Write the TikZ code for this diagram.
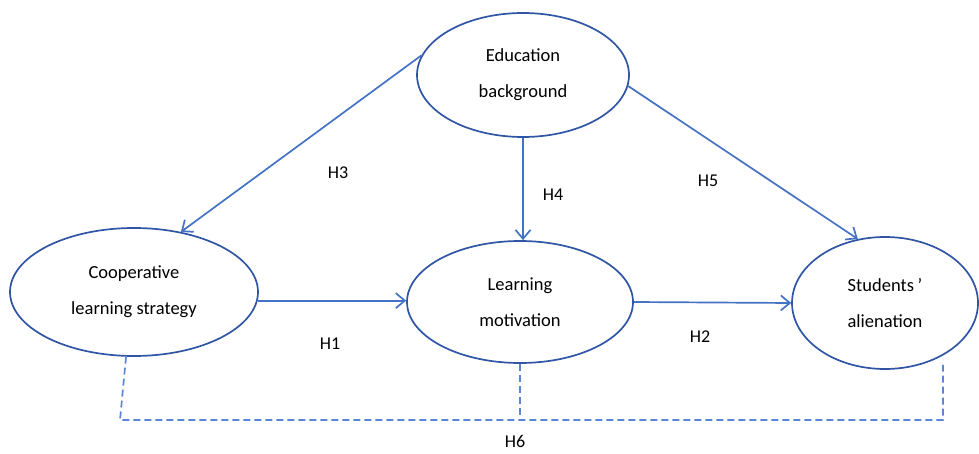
\documentclass[tikz,border=0pt]{standalone}
\usepackage{fontspec}
\setmainfont{Carlito}
\usetikzlibrary{shapes.geometric,arrows.meta}
\definecolor{ellblue}{HTML}{2F55A4}
\definecolor{arrblue}{HTML}{4472C4}
\definecolor{dashblue}{HTML}{5B86D6}
\tikzset{
  construct/.style={ellipse, draw=ellblue, line width=1.7pt, inner sep=0pt, align=center,
    font=\fontsize{18.5}{36}\selectfont},
  path/.style={draw=arrblue, line width=1.7pt, -{Straight Barb[length=9pt,width=15pt,line width=1.7pt]}},
  dashline/.style={draw=dashblue, line width=1.7pt, dash pattern=on 7pt off 4pt},
  hlab/.style={font=\fontsize{18}{20}\selectfont, inner sep=0pt}
}
\begin{document}
\begin{tikzpicture}[x=1pt,y=-1pt]
\useasboundingbox (0,0) rectangle (979,454);
\node[construct, minimum width=212pt, minimum height=124pt] (edu) at (523,75) {Education\\background};
\node[construct, minimum width=248pt, minimum height=128pt] (coop) at (134,292) {Cooperative\\learning strategy};
\node[construct, minimum width=226pt, minimum height=122pt] (lm) at (520,302) {Learning\\motivation};
\node[construct, minimum width=186pt, minimum height=132pt] (stu) at (885,303) {Students\hspace{0.2em}’\\alienation};
% arrows
\draw[path] (edu.169) -- (coop.52);
\draw[path] (edu.south) -- (edu.south |- lm.north);
\draw[path] (edu.354) -- (stu.113);
\draw[path] (coop.-4) -- (coop.-4 -| lm.west);
\draw[path] (lm.east) -- (stu.west);
% labels
\node[hlab] (h3) at (338,173) {H3};
\node[hlab] (h4) at (553,195) {H4};
\node[hlab] (h5) at (708,181) {H5};
\node[hlab] (h1) at (330,344) {H1};
\node[hlab] (h2) at (700,337) {H2};
\node[hlab] (h6) at (515,441) {H6};
% dashed H6 bracket
\coordinate (cl) at (120,420);
\coordinate (cm) at (519,420);
\coordinate (cr) at (943,420);
\draw[dashline] (coop.263) -- (cl) -- (cr) -- (cr |- stu.300);
\draw[dashline] (lm.south) -- (lm.south |- cm);
\end{tikzpicture}
\end{document}
